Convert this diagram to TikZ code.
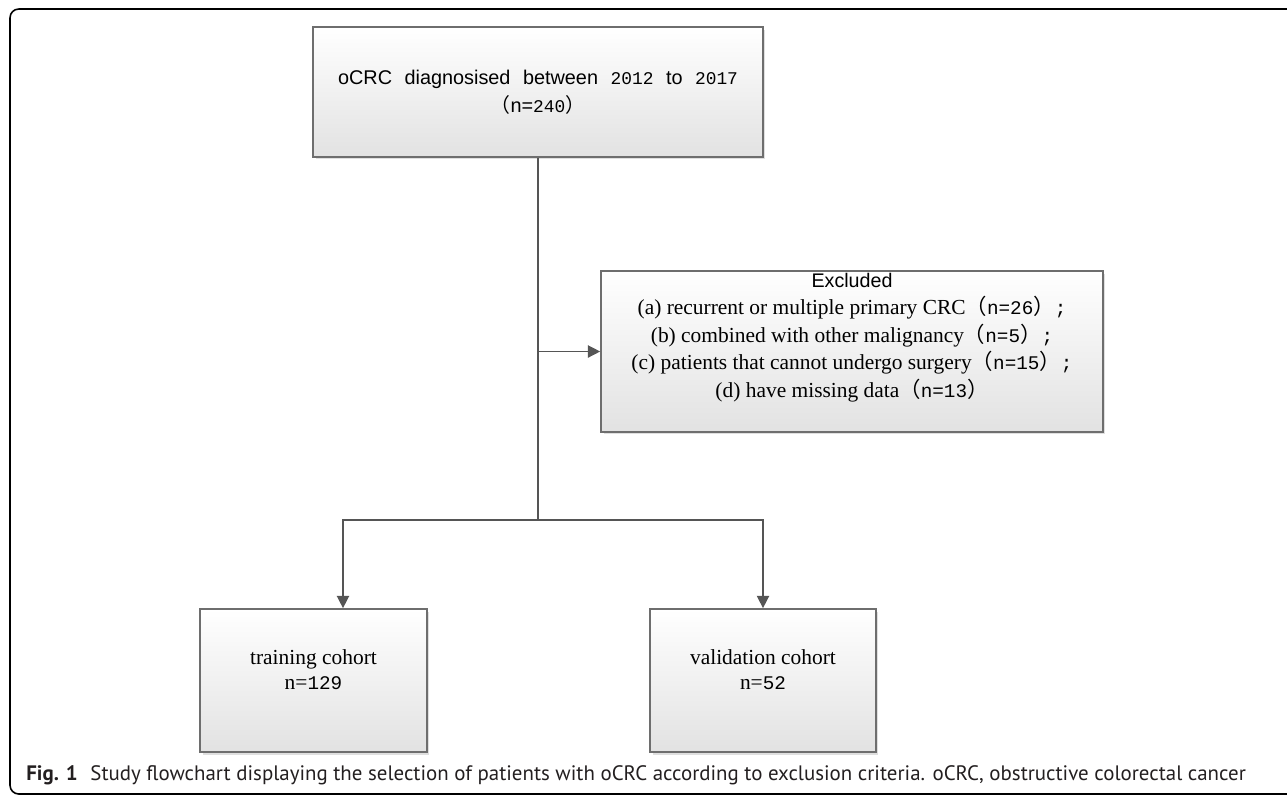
\documentclass[tikz,border=0pt]{standalone}
\usepackage{fontspec}
\setmainfont{Liberation Serif}
\newfontfamily\arialf{Liberation Sans}
\newfontfamily\monof[Scale=0.9]{Liberation Mono}
\newfontfamily\cjkf{Noto Sans CJK SC}
\newfontfamily\capf{PT Sans}
\usepackage{xcolor}
\usetikzlibrary{arrows.meta, shadows}

\definecolor{boxline}{HTML}{6E6E6E}
\definecolor{linkgray}{HTML}{555555}
\definecolor{fillbottom}{HTML}{E2E2E2}
\definecolor{captext}{HTML}{231F20}

\tikzset{
	flowbox/.style={draw=boxline, line width=1pt, top color=white, bottom color=fillbottom,
		drop shadow={shadow xshift=0.05cm, shadow yshift=-0.05cm, opacity=0.25, fill=gray}},
	link/.style={draw=linkgray, line width=0.8pt},
	linkarrow/.style={link, -{Triangle[length=7pt, width=7pt]}},
	boxtext/.style={align=center, inner sep=0pt, text=black}
}

\begin{document}
\begin{tikzpicture}[x=0.02cm, y=-0.02cm]
			\useasboundingbox (0,0) rectangle (1287,795);
			\draw[black, line width=0.9pt, rounded corners=5pt] (10,9) rectangle (1320,794);

			\node (diag) [flowbox, minimum width=9cm, minimum height=2.6cm] at (538,92) {};
			\node (excl) [flowbox, minimum width=10.04cm, minimum height=3.22cm] at (852,351.5) {};
			\node (train) [flowbox, minimum width=4.54cm, minimum height=2.86cm] at (313.5,680.5) {};
			\node (valid) [flowbox, minimum width=4.52cm, minimum height=2.86cm] at (763,680.5) {};

			\node (diagtext) [boxtext, font={\arialf\fontsize{11.3}{15.9}\selectfont\spaceskip=0.25cm\relax}] at (diag.center)
				{oCRC diagnosised between {\monof 2012} to {\monof 2017}\\{\cjkf （}n={\monof 240}{\cjkf ）}};
			\node (excltext) [boxtext, font=\fontsize{12.2}{15.7}\selectfont] at ([yshift=0.28cm]excl.center)
				{{\arialf\fontsize{11.2}{15.7}\selectfont Excluded}\\
				(a) recurrent or multiple primary CRC{\cjkf （}{\monof n=26}{\cjkf ）}{\monof ;}\\
				(b) combined with other malignancy{\cjkf （}{\monof n=5}{\cjkf ）}{\monof ;}\\
				(c) patients that cannot undergo surgery{\cjkf （}{\monof n=15}{\cjkf ）}{\monof ;}\\
				(d) have missing data{\cjkf （}{\monof n=13}{\cjkf ）}};
			\node (traintext) [boxtext, font=\fontsize{12.2}{14.2}\selectfont] at ([yshift=0.21cm]train.center)
				{training cohort\\n={\monof 129}};
			\node (validtext) [boxtext, font=\fontsize{12.2}{14.2}\selectfont] at ([yshift=0.21cm]valid.center)
				{validation cohort\\n={\monof 52}};

			\coordinate (split) at (diag.south |- excl.west);
			\coordinate (fork) at (538,520);
			\draw[link] (diag.south) -- (fork);
			\draw[linkarrow] (split) -- (excl.west);
			\draw[linkarrow] (fork) -| ([xshift=0.59cm]train.north);
			\draw[linkarrow] (fork) -| (valid.north);

			\node (caption) [anchor=west, inner sep=0pt, text=captext, font=\capf\fontsize{11.9}{13}\selectfont] at (26,775)
				{\textbf{Fig. 1}\hspace{0.6em}Study flowchart displaying the selection of patients with oCRC according to exclusion criteria. oCRC, obstructive colorectal cancer};
		\end{tikzpicture}
\end{document}
